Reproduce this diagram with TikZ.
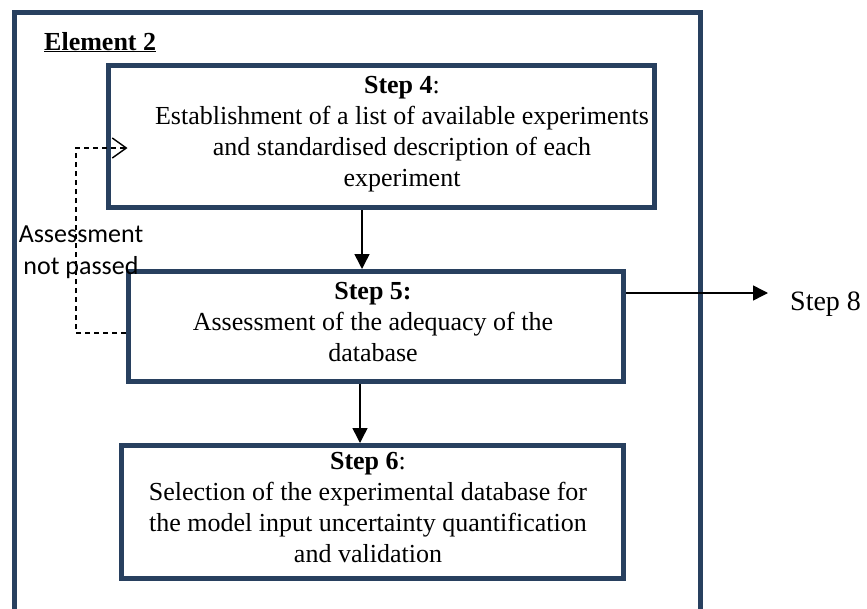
\documentclass[tikz,border=0pt]{standalone}
\usepackage{fontspec}
\setmainfont{Liberation Serif}
\newfontfamily\labelsans{Carlito}
\usetikzlibrary{arrows.meta,calc}
\definecolor{framenavy}{HTML}{28405F}
\begin{document}
\begin{tikzpicture}[x=1pt,y=-1pt,
  framebox/.style={draw=framenavy, line width=5pt},
  stepbox/.style={draw=framenavy, line width=5pt, inner sep=0pt},
  steptext/.style={font=\fontsize{26}{31}\selectfont, align=center, inner sep=0pt},
  flow/.style={line width=1.5pt, -{Triangle[length=15pt,width=15pt]}},
  feedback/.style={line width=1.4pt, dash pattern=on 5pt off 4pt,
    -{Straight Barb[length=14pt,width=20pt]}}]
\useasboundingbox (0,0) rectangle (867,608);

% outer frame of the element
\draw[framebox] (14.5,12.5) rectangle (700.5,630);
\node[anchor=base west, font=\fontsize{26}{31}\selectfont\bfseries, inner sep=0pt]
  (el) at (44,50) {\underline{Element 2}};

% step boxes
\node[stepbox, minimum width=546pt, minimum height=142pt] (s4) at (381,136.5) {};
\node[stepbox, minimum width=495pt, minimum height=110pt] (s5) at (376,326.5) {};
\node[stepbox, minimum width=502pt, minimum height=133pt] (s6) at (372.5,512) {};

% step texts
\node[steptext] (t4) at (402,134.5)
  {\textbf{Step 4}:\\Establishment of a list of available experiments\\and standardised description of each\\experiment};
\node[steptext] (t5) at (373,322)
  {\textbf{Step 5:}\\Assessment of the adequacy of the\\database};
\node[steptext] (t6) at (368,508)
  {\textbf{Step 6}:\\Selection of the experimental database for\\the model input uncertainty quantification\\and validation};

% external target
\node[anchor=base west, font=\fontsize{28}{33}\selectfont, inner sep=0pt]
  (s8) at (790,310) {Step 8};

% feedback label
\node[font=\labelsans\fontsize{26}{32}\selectfont, align=center, inner sep=0pt]
  (fbtext) at (81,252) {Assessment\\not passed};

% main flow
\coordinate (ax) at (362,0);
\coordinate (bx) at (360,0);
\coordinate (r8) at (0,293);
\draw[flow] (s4.south -| ax) -- (s5.north -| ax);
\draw[flow] (s5.south -| bx) -- (s6.north -| bx);
\draw[flow, shorten >=22pt] (s5.east |- r8) -- (s8.west |- r8);

% loop back when the assessment fails
\coordinate (fb1) at (76,333);
\coordinate (fb2) at (76,148);
\draw[feedback] (s5.west |- fb1) -- (fb1) -- (fb2) -- ($(s4.west |- fb2)+(22,0)$);
\end{tikzpicture}
\end{document}
